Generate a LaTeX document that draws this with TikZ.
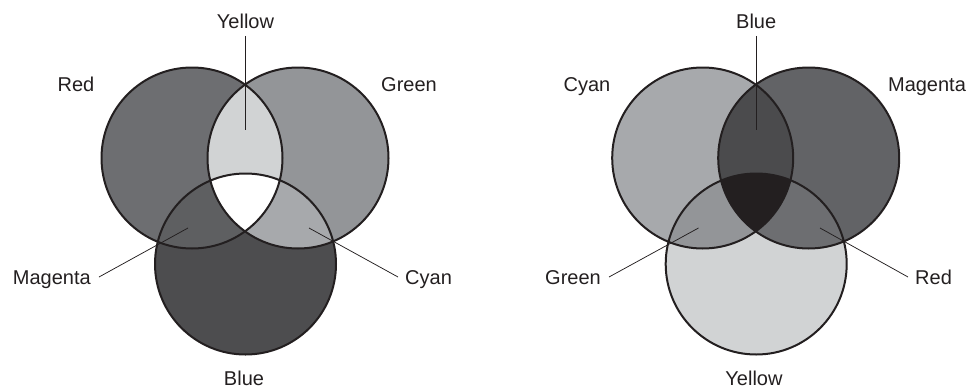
\documentclass[tikz,border=0pt]{standalone}
\usepackage{fontspec}
\setmainfont{Liberation Sans}
\definecolor{ink}{HTML}{231F20}
\definecolor{gRed}{HTML}{6D6E71}
\definecolor{gGreen}{HTML}{939598}
\definecolor{gYellow}{HTML}{D1D3D4}
\definecolor{gBlue}{HTML}{4D4D4F}
\definecolor{gMag}{HTML}{5E5F61}
\definecolor{gCyan}{HTML}{A7A9AC}
\definecolor{gMagR}{HTML}{626366}
\definecolor{gBlueR}{HTML}{4B4B4D}
\begin{document}
\begin{tikzpicture}[x=1pt,y=-1pt,
  outline/.style={draw=ink, line width=2pt},
  leader/.style={draw=ink, line width=0.75pt},
  lab/.style={font=\fontsize{20}{20}\selectfont, text=ink, text height=14.3pt, text depth=0pt, inner sep=0pt},
  labE/.style={lab, anchor=east, inner xsep=8pt},
  labW/.style={lab, anchor=west, inner xsep=7pt},
  labT/.style={lab, inner ysep=7.5pt}]
\useasboundingbox (0,0) rectangle (979,391);
\def\rr{90.5pt}
% ---------- left diagram ----------
\coordinate (R) at (192,158);
\coordinate (G) at (298,158);
\coordinate (B) at (245.5,264);
\fill[gRed] (R) circle[radius=\rr];
\fill[gGreen] (G) circle[radius=\rr];
\fill[gBlue] (B) circle[radius=\rr];
\begin{scope}\clip (R) circle[radius=\rr]; \fill[gYellow] (G) circle[radius=\rr]; \end{scope}
\begin{scope}\clip (R) circle[radius=\rr]; \fill[gMag] (B) circle[radius=\rr]; \end{scope}
\begin{scope}\clip (G) circle[radius=\rr]; \fill[gCyan] (B) circle[radius=\rr]; \end{scope}
\begin{scope}\clip (R) circle[radius=\rr]; \clip (G) circle[radius=\rr]; \fill[white] (B) circle[radius=\rr]; \end{scope}
\draw[outline] (R) circle[radius=\rr];
\draw[outline] (G) circle[radius=\rr];
\draw[outline] (B) circle[radius=\rr];
\node[lab] (lRed) at (76,84) {Red};
\node[lab] (lGreen) at (409,84) {Green};
\node[labT] (lYellow) at (245.5,21) {Yellow};
\node[lab] (lBlue) at (244,378) {Blue};
\node[labE] (lMag) at (99,277) {Magenta};
\node[labW] (lCyan) at (398,277) {Cyan};
\coordinate (pYellow) at (245.5,130);
\coordinate (pMag) at (188,228);
\coordinate (pCyan) at (309,228);
\draw[leader] (lYellow.south) -- (pYellow);
\draw[leader] (lMag.east) -- (pMag);
\draw[leader] (lCyan.west) -- (pCyan);
% ---------- right diagram ----------
\coordinate (C2) at (702.7,158);
\coordinate (M2) at (808.7,158);
\coordinate (Y2) at (756.2,264);
\fill[gCyan] (C2) circle[radius=\rr];
\fill[gMagR] (M2) circle[radius=\rr];
\fill[gYellow] (Y2) circle[radius=\rr];
\begin{scope}\clip (C2) circle[radius=\rr]; \fill[gBlueR] (M2) circle[radius=\rr]; \end{scope}
\begin{scope}\clip (C2) circle[radius=\rr]; \fill[gGreen] (Y2) circle[radius=\rr]; \end{scope}
\begin{scope}\clip (M2) circle[radius=\rr]; \fill[gRed] (Y2) circle[radius=\rr]; \end{scope}
\begin{scope}\clip (C2) circle[radius=\rr]; \clip (M2) circle[radius=\rr]; \fill[ink] (Y2) circle[radius=\rr]; \end{scope}
\draw[outline] (C2) circle[radius=\rr];
\draw[outline] (M2) circle[radius=\rr];
\draw[outline] (Y2) circle[radius=\rr];
\node[lab] (rCyan) at (587,84) {Cyan};
\node[lab] (rMag) at (927,84) {Magenta};
\node[labT] (rBlue) at (756.2,21) {Blue};
\node[lab] (rYellow) at (754,378) {Yellow};
\node[labE] (rGreen) at (609,277) {Green};
\node[labW] (rRed) at (908,277) {Red};
\coordinate (qBlue) at (756.2,130);
\coordinate (qGreen) at (698.5,228);
\coordinate (qRed) at (820,228);
\draw[leader] (rBlue.south) -- (qBlue);
\draw[leader] (rGreen.east) -- (qGreen);
\draw[leader] (rRed.west) -- (qRed);
\end{tikzpicture}
\end{document}
